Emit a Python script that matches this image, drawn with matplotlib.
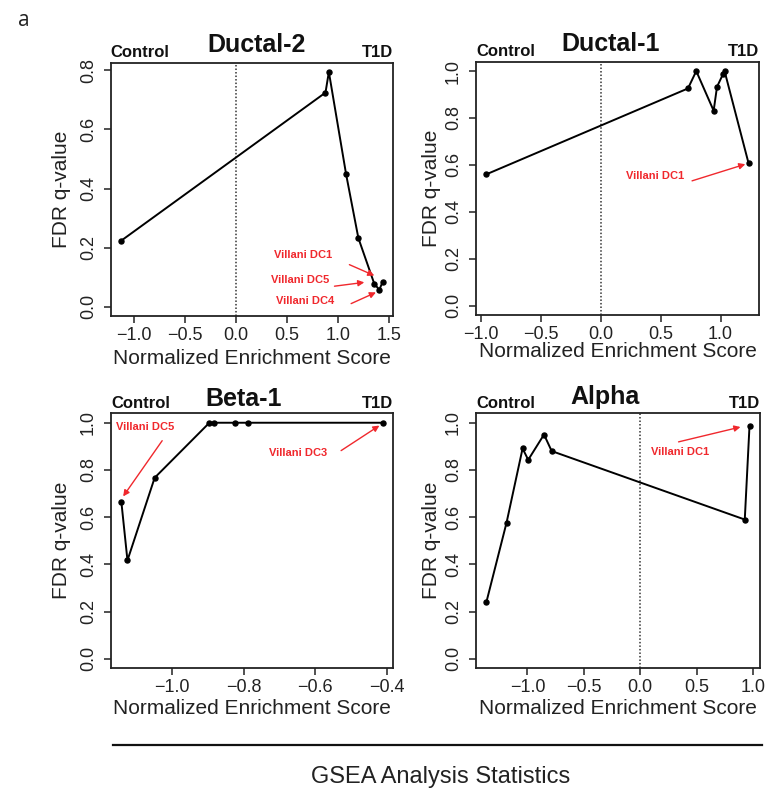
import matplotlib
matplotlib.use("Agg")
import matplotlib.pyplot as plt
from matplotlib.lines import Line2D

plt.rcParams['font.family'] = ['Liberation Sans', 'DejaVu Sans']

# ---------------- data ----------------
panel_titles = ["Ductal-2", "Ductal-1", "Beta-1", "Alpha"]

ductal2_nes = [-1.124, 0.877, 0.910, 1.079, 1.199, 1.355, 1.404, 1.436]
ductal2_fdr = [0.223, 0.725, 0.795, 0.448, 0.232, 0.077, 0.057, 0.083]

ductal1_nes = [-0.952, 0.728, 0.797, 0.942, 0.970, 1.020, 1.033, 1.233]
ductal1_fdr = [0.560, 0.926, 1.000, 0.831, 0.933, 0.987, 1.000, 0.607]

beta1_nes = [-1.142, -1.125, -1.049, -0.896, -0.882, -0.824, -0.787, -0.412]
beta1_fdr = [0.664, 0.417, 0.767, 1.000, 1.000, 1.000, 1.000, 1.000]

alpha_nes = [-1.363, -1.185, -1.043, -0.993, -0.853, -0.785, 0.927, 0.969]
alpha_fdr = [0.242, 0.577, 0.891, 0.843, 0.950, 0.880, 0.590, 0.987]

ductal2_xticks = [-1.0, -0.5, 0.0, 0.5, 1.0, 1.5]
ductal2_yticks = [0.0, 0.2, 0.4, 0.6, 0.8]
ductal1_xticks = [-1.0, -0.5, 0.0, 0.5, 1.0]
beta1_xticks = [-1.0, -0.8, -0.6, -0.4]
alpha_xticks = [-1.0, -0.5, 0.0, 0.5, 1.0]
unit_yticks = [0.0, 0.2, 0.4, 0.6, 0.8, 1.0]

# annotations: (label, text position, arrow tail, arrow head) in data units
ductal2_notes = [
    ("Villani DC1", (0.656, 0.176), (1.111, 0.142), (1.355, 0.105)),
    ("Villani DC5", (0.624, 0.089), (0.965, 0.069), (1.257, 0.082)),
    ("Villani DC4", (0.673, 0.018), (1.128, 0.010), (1.371, 0.048)),
]
ductal1_notes = [
    ("Villani DC1", (0.456, 0.554), (0.762, 0.532), (1.206, 0.603)),
]
beta1_notes = [
    ("Villani DC5", (-1.076, 0.983), (-1.028, 0.924), (-1.137, 0.688)),
    ("Villani DC3", (-0.648, 0.872), (-0.528, 0.882), (-0.421, 0.988)),
]
alpha_notes = [
    ("Villani DC1", (0.356, 0.878), (0.340, 0.919), (0.889, 0.982)),
]

# ---------------- layout ----------------
W, H = 777, 792
fig = plt.figure(figsize=(W / 100, H / 100), dpi=100)

def box(l, r, t, b):
    return [l / W, 1 - b / H, (r - l) / W, (b - t) / H]

RED = "#f0282d"

panels = [
    dict(title=panel_titles[0], x=ductal2_nes, y=ductal2_fdr, xt=ductal2_xticks, yt=ductal2_yticks,
         rect=box(110.7, 393, 62.5, 316), xlim=(-1.226, 1.538), ylim=(-0.032, 0.827),
         vline=True, notes=ductal2_notes, tx=0.515, ty=1.043, xl=-0.166, yl=-0.174),
    dict(title=panel_titles[1], x=ductal1_nes, y=ductal1_fdr, xt=ductal1_xticks, yt=unit_yticks,
         rect=box(476, 759, 61.7, 315), xlim=(-1.039, 1.32), ylim=(-0.04, 1.04),
         vline=True, notes=ductal1_notes, tx=0.474, ty=1.043, xl=-0.145, yl=-0.156),
    dict(title=panel_titles[2], x=beta1_nes, y=beta1_fdr, xt=beta1_xticks, yt=unit_yticks,
         rect=box(111, 393, 413.3, 668.3), xlim=(-1.171, -0.383), ylim=(-0.04, 1.04),
         vline=False, notes=beta1_notes, tx=0.472, ty=1.03, xl=-0.157, yl=-0.174),
    dict(title=panel_titles[3], x=alpha_nes, y=alpha_fdr, xt=alpha_xticks, yt=unit_yticks,
         rect=box(476, 760, 413.3, 668.3), xlim=(-1.456, 1.062), ylim=(-0.04, 1.04),
         vline=True, notes=alpha_notes, tx=0.455, ty=1.035, xl=-0.157, yl=-0.156),
]

for p in panels:
    ax = fig.add_axes(p["rect"])
    ax.plot(p["x"], p["y"], color="black", lw=1.4, marker="o", ms=3.6, zorder=3)
    if p["vline"]:
        ax.axvline(0, color="#333333", lw=1.1, ls=(0, (1, 1.3)), zorder=1)
    ax.set_xlim(*p["xlim"])
    ax.set_ylim(*p["ylim"])
    ax.set_xticks(p["xt"])
    ax.set_yticks(p["yt"])
    ax.set_xticklabels([f"{v:.1f}".replace("-", "\u2212") for v in p["xt"]])
    ax.set_yticklabels([f"{v:.1f}" for v in p["yt"]], rotation=90, va="center")
    ax.tick_params(axis="both", direction="out", length=5, width=1.1, labelsize=13,
                   colors="#222222", labelcolor="#222222")
    ax.tick_params(axis="x", pad=3)
    ax.tick_params(axis="y", pad=5)
    for s in ax.spines.values():
        s.set_linewidth(1.3)
        s.set_color("#222222")
    ax.set_xlabel("Normalized Enrichment Score", fontsize=15, color="#222222", va="center")
    ax.set_ylabel("FDR q-value", fontsize=15, color="#222222", va="center")
    ax.xaxis.set_label_coords(0.5, p["xl"])
    ax.yaxis.set_label_coords(p["yl"], 0.5)
    ax.text(p["tx"], p["ty"], p["title"], transform=ax.transAxes, ha="center", va="baseline",
            fontsize=18, fontweight="bold", color="#111111")
    ax.text(0.0, 1.022, "Control", transform=ax.transAxes, ha="left", va="baseline",
            fontsize=12, fontweight="bold", color="#111111")
    ax.text(1.0, 1.022, "T1D", transform=ax.transAxes, ha="right", va="baseline",
            fontsize=12, fontweight="bold", color="#111111")
    for label, tpos, tail, head in p["notes"]:
        ax.text(tpos[0], tpos[1], label, ha="center", va="center", fontsize=8,
                fontweight="bold", color=RED, zorder=4)
        ax.annotate("", xy=head, xytext=tail,
                    arrowprops=dict(arrowstyle="-|>", color=RED, lw=1.0,
                                    mutation_scale=9, shrinkA=0, shrinkB=0), zorder=4)

fig.text(18 / W, 1 - 21 / H, "a", ha="left", va="center", fontsize=15,
         family=["Open Sans", "DejaVu Sans"], color="#222222")
fig.add_artist(Line2D([113 / W, 762 / W], [1 - 745 / H, 1 - 745 / H], color="#111111", lw=1.6))
fig.text(441 / W, 1 - 777 / H, "GSEA Analysis Statistics", ha="center", va="center",
         fontsize=17, color="#222222")

fig.savefig("out.png", dpi=100)
